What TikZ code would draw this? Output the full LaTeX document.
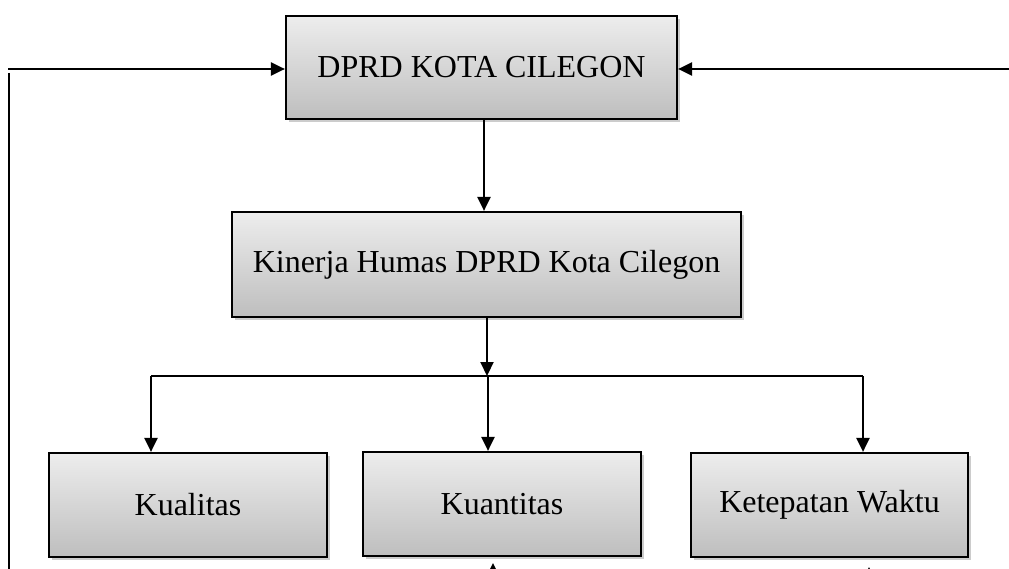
\documentclass[tikz,border=0pt]{standalone}
\usepackage{fontspec}
\setmainfont{Liberation Serif}
\usetikzlibrary{arrows.meta,shadows}
\definecolor{boxtop}{HTML}{EDEDED}
\definecolor{boxbot}{HTML}{BEBEBE}
\tikzset{
  box/.style={draw=black, line width=2.2pt, inner sep=0pt, top color=boxtop, bottom color=boxbot,
    font=\fontsize{32}{38}\selectfont,
    drop shadow={shadow xshift=3pt, shadow yshift=-3pt, opacity=0.2, fill=black}},
  conn/.style={line width=2.2pt},
  arr/.style={line width=2.2pt, -{Triangle[length=14pt,width=13pt]}}
}
\begin{document}
\begin{tikzpicture}[x=1pt,y=-1pt]
\useasboundingbox (0,0) rectangle (1009,569);
\clip (0,0) rectangle (1009,569);
\node[box, minimum width=391pt, minimum height=103pt] (top) at (481.5,67.5) {DPRD KOTA CILEGON};
\node[box, minimum width=509pt, minimum height=105pt] (mid) at (486.5,264.5) {Kinerja Humas DPRD Kota Cilegon};
\node[box, minimum width=278pt, minimum height=104pt] (kual) at (188,505) {Kualitas};
\node[box, minimum width=278pt, minimum height=104pt] (kuan) at (502,504) {Kuantitas};
\node[box, minimum width=277pt, minimum height=104pt] (ket) at (829.5,505) {Ketepatan Waktu};
% feedback lines
\coordinate (lh) at (8,69);
\coordinate (lvt) at (9,73);
\coordinate (lvb) at (9,575);
\coordinate (rh) at (1012,69);
\draw[arr] (lh) -- (lh -| top.west);
\draw[conn] (lvt) -- (lvb);
\draw[arr] (rh) -- (rh -| top.east);
% top to middle
\coordinate (t1) at (484,0);
\draw[arr] (t1 |- top.south) -- (t1 |- mid.north);
% middle to branch
\coordinate (j) at (487,376);
\coordinate (bl) at (151,376);
\coordinate (bm) at (488,376);
\coordinate (br) at (863,376);
\draw[arr] (j |- mid.south) -- (j);
\draw[conn] (bl) -- (br);
\draw[arr] (bl) -- (bl |- kual.north);
\draw[arr] (bm) -- (bm |- kuan.north);
\draw[arr] (br) -- (br |- ket.north);
% arrows entering from below
\coordinate (u1) at (493,620);
\coordinate (u1t) at (493,563);
\coordinate (u2) at (869,620);
\coordinate (u2t) at (869,567);
\draw[arr] (u1) -- (u1t);
\draw[arr] (u2) -- (u2t);
\end{tikzpicture}
\end{document}
